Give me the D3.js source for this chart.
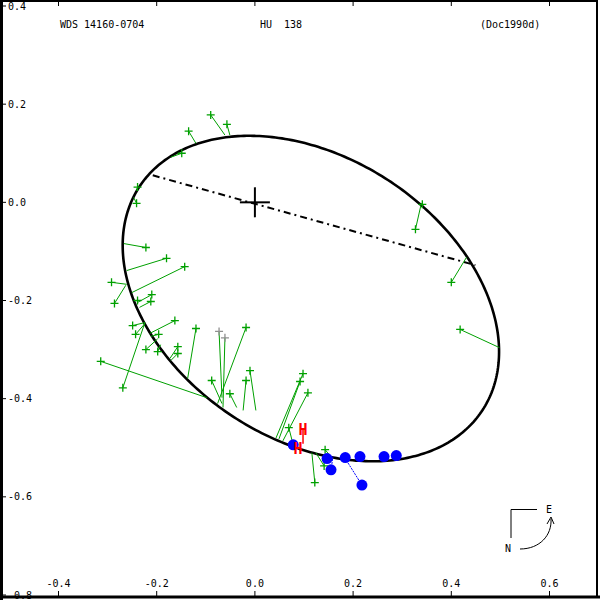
<!DOCTYPE html>
<html><head><meta charset="utf-8">
<script src="https://cdn.jsdelivr.net/npm/d3@7/dist/d3.min.js"></script>
<style>body{margin:0;background:#fff}svg{display:block}text{font-family:"DejaVu Sans Mono",monospace;font-size:10px}</style>
</head><body><svg id="c" width="600" height="600"></svg>
<script>
const xTicks = [-0.4, -0.2, 0.0, 0.2, 0.4, 0.6];
const yTicks = [0.4, 0.2, 0.0, -0.2, -0.4, -0.6, -0.8];
const titleLeft = "WDS 14160-0704";
const titleMid = "HU  138";
const titleRight = "(Doc1990d)";
// apparent orbit ellipse: centre, semi-axes, tilt (deg)
const orbitCenter = [0.114, -0.196];
const orbitAxes = [0.417, 0.288];
const orbitTilt = -33;
const nodeLine = [[-0.208, 0.055], [0.449, -0.128]];
// micrometer observations [x, y] and computed positions
const obsXY = [
 [-0.090,0.178],[-0.057,0.159],[-0.135,0.145],[-0.149,0.100],[-0.239,0.031],[-0.241,-0.002],
 [-0.222,-0.092],[-0.180,-0.114],[-0.143,-0.131],[-0.292,-0.163],[-0.286,-0.206],[-0.210,-0.188],
 [-0.212,-0.202],[-0.239,-0.200],[-0.249,-0.251],[-0.243,-0.269],[-0.163,-0.241],[-0.196,-0.269],
 [-0.222,-0.300],[-0.198,-0.304],[-0.157,-0.294],[-0.157,-0.308],[-0.314,-0.324],[-0.269,-0.378],
 [-0.120,-0.257],[-0.073,-0.263],[-0.061,-0.276],[-0.018,-0.255],[-0.088,-0.363],[-0.051,-0.390],
 [-0.018,-0.363],[-0.010,-0.343],[0.341,-0.004],[0.327,-0.055],[0.400,-0.163],[0.418,-0.259],
 [0.098,-0.349],[0.092,-0.365],[0.108,-0.388],[0.069,-0.459],[0.143,-0.504],[0.141,-0.537],[0.122,-0.571]
];
const obsCalc = [
 [-0.061,0.137],[-0.051,0.137],[-0.120,0.120],[-0.171,0.092],[-0.241,0.024],[-0.247,0.010],
 [-0.267,-0.084],[-0.261,-0.139],[-0.251,-0.184],[-0.261,-0.167],[-0.263,-0.169],[-0.239,-0.204],
 [-0.235,-0.214],[-0.241,-0.200],[-0.224,-0.245],[-0.224,-0.247],[-0.214,-0.267],[-0.212,-0.273],
 [-0.198,-0.278],[-0.192,-0.290],[-0.173,-0.318],[-0.171,-0.322],[-0.098,-0.398],[-0.224,-0.245],
 [-0.137,-0.359],[-0.067,-0.398],[-0.065,-0.418],[-0.076,-0.410],[-0.067,-0.410],[-0.037,-0.418],
 [-0.024,-0.424],[0.002,-0.424],[0.339,-0.002],[0.339,-0.002],[0.431,-0.112],[0.498,-0.296],
 [0.043,-0.480],[0.049,-0.482],[0.057,-0.486],[0.078,-0.494],[0.153,-0.516],[0.124,-0.510],[0.116,-0.510]
];
// observations plotted with lower weight (grey marker)
const obsGrey = [25, 26];
// interferometric observations
const spkXY = [[0.078,-0.494],[0.147,-0.522],[0.155,-0.545],[0.184,-0.520],[0.214,-0.518],[0.263,-0.518],[0.288,-0.516],[0.218,-0.576]];
const spkCalc = [[0.078,-0.494],[0.143,-0.514],[0.159,-0.518],[0.184,-0.520],[0.214,-0.521],[0.263,-0.521],[0.288,-0.518],[0.184,-0.522]];
// Hipparcos
const hipXY = [[0.098,-0.463],[0.088,-0.502]];
const hipCalc = [[0.098,-0.492],[0.088,-0.498]];

const svg = d3.select("#c");
const x = d3.scaleLinear().domain([-0.4, 0.6]).range([58.5, 549.5]);
const y = d3.scaleLinear().domain([0.4, -0.8]).range([6, 595]);

// frame
svg.append("rect").attr("x",1).attr("y",1).attr("width",596).attr("height",596)
  .attr("fill","none").attr("stroke","#000").attr("stroke-width",2);
svg.append("line").attr("x1",1.5).attr("x2",1.5).attr("y1",0).attr("y2",600).attr("stroke","#000").attr("stroke-width",3);
svg.append("line").attr("x1",0).attr("x2",600).attr("y1",597).attr("y2",597).attr("stroke","#000").attr("stroke-width",3);

// ticks
xTicks.forEach(v=>{
  svg.append("line").attr("x1",x(v)).attr("x2",x(v)).attr("y1",0).attr("y2",6).attr("stroke","#000");
  svg.append("line").attr("x1",x(v)).attr("x2",x(v)).attr("y1",591).attr("y2",597).attr("stroke","#000");
  svg.append("text").attr("x",x(v)).attr("y",587).attr("text-anchor","middle").text(d3.format(".1f")(v).replace("−","-"));
});
yTicks.forEach(v=>{
  svg.append("line").attr("x1",0).attr("x2",6).attr("y1",y(v)).attr("y2",y(v)).attr("stroke","#000");
  svg.append("text").attr("x",8).attr("y",y(v)+3.5).text(d3.format(".1f")(v).replace("−","-"));
});

// titles
svg.append("text").attr("x",60).attr("y",28).text(titleLeft);
svg.append("text").attr("x",260).attr("y",28).attr("xml:space","preserve").text(titleMid);
svg.append("text").attr("x",480).attr("y",28).text(titleRight);

// orbit
const th = orbitTilt*Math.PI/180;
const ell = d3.range(0, 361).map(i=>{
  const t = i*Math.PI/180;
  const ex = orbitAxes[0]*Math.cos(t), ey = orbitAxes[1]*Math.sin(t);
  return [orbitCenter[0] + ex*Math.cos(th) - ey*Math.sin(th), orbitCenter[1] + ex*Math.sin(th) + ey*Math.cos(th)];
});
const line = d3.line().x(d=>x(d[0])).y(d=>y(d[1]));
svg.append("path").attr("d", line(ell)).attr("fill","none").attr("stroke","#000").attr("stroke-width",2.6);

// node line
svg.append("path").attr("d", line(nodeLine)).attr("fill","none").attr("stroke","#000")
  .attr("stroke-width",2).attr("stroke-dasharray","7,4,2,4");

// primary
svg.append("line").attr("x1",x(0)-15).attr("x2",x(0)+15).attr("y1",y(0)).attr("y2",y(0)).attr("stroke","#000").attr("stroke-width",2);
svg.append("line").attr("x1",x(0)).attr("x2",x(0)).attr("y1",y(0)-15).attr("y2",y(0)+15).attr("stroke","#000").attr("stroke-width",2);

const green = "#00a000";
obsXY.forEach((p,i)=>{
  const c = obsCalc[i];
  svg.append("line").attr("x1",x(p[0])).attr("y1",y(p[1])).attr("x2",x(c[0])).attr("y2",y(c[1])).attr("stroke",green).attr("stroke-width",1);
});
obsXY.forEach((p,i)=>{
  svg.append("path").attr("d",`M${x(p[0])-4},${y(p[1])}h8M${x(p[0])},${y(p[1])-4}v8`)
    .attr("stroke",obsGrey.includes(i)?"#909090":green).attr("stroke-width",1.3);
});

spkXY.forEach((p,i)=>{
  const c = spkCalc[i];
  svg.append("line").attr("x1",x(p[0])).attr("y1",y(p[1])).attr("x2",x(c[0])).attr("y2",y(c[1])).attr("stroke","#0000ff").attr("stroke-width",1).attr("stroke-dasharray","2,1");
});
spkXY.forEach(p=>{
  svg.append("circle").attr("cx",x(p[0])).attr("cy",y(p[1])).attr("r",5.5).attr("fill","#0000ff");
});

hipXY.forEach((p,i)=>{
  const c = hipCalc[i];
  svg.append("line").attr("x1",x(p[0])).attr("y1",y(p[1])).attr("x2",x(c[0])).attr("y2",y(c[1])).attr("stroke","#ff0000").attr("stroke-width",1.5);
});
hipXY.forEach(p=>{
  svg.append("text").attr("x",x(p[0])).attr("y",y(p[1])+5).attr("text-anchor","middle")
    .style("font-size","15px").style("font-weight","bold").attr("fill","#ff0000").text("H");
});

// compass
svg.append("path").attr("d","M537,509.5H511V538").attr("fill","none").attr("stroke","#000");
svg.append("text").attr("x",546).attr("y",513).text("E");
svg.append("text").attr("x",505).attr("y",552).text("N");
svg.append("path").attr("d","M520,549 C540,549 552,535 551,519").attr("fill","none").attr("stroke","#000");
svg.append("path").attr("d","M547,524 L551,517 L554,524").attr("fill","none").attr("stroke","#000");
</script></body></html>
